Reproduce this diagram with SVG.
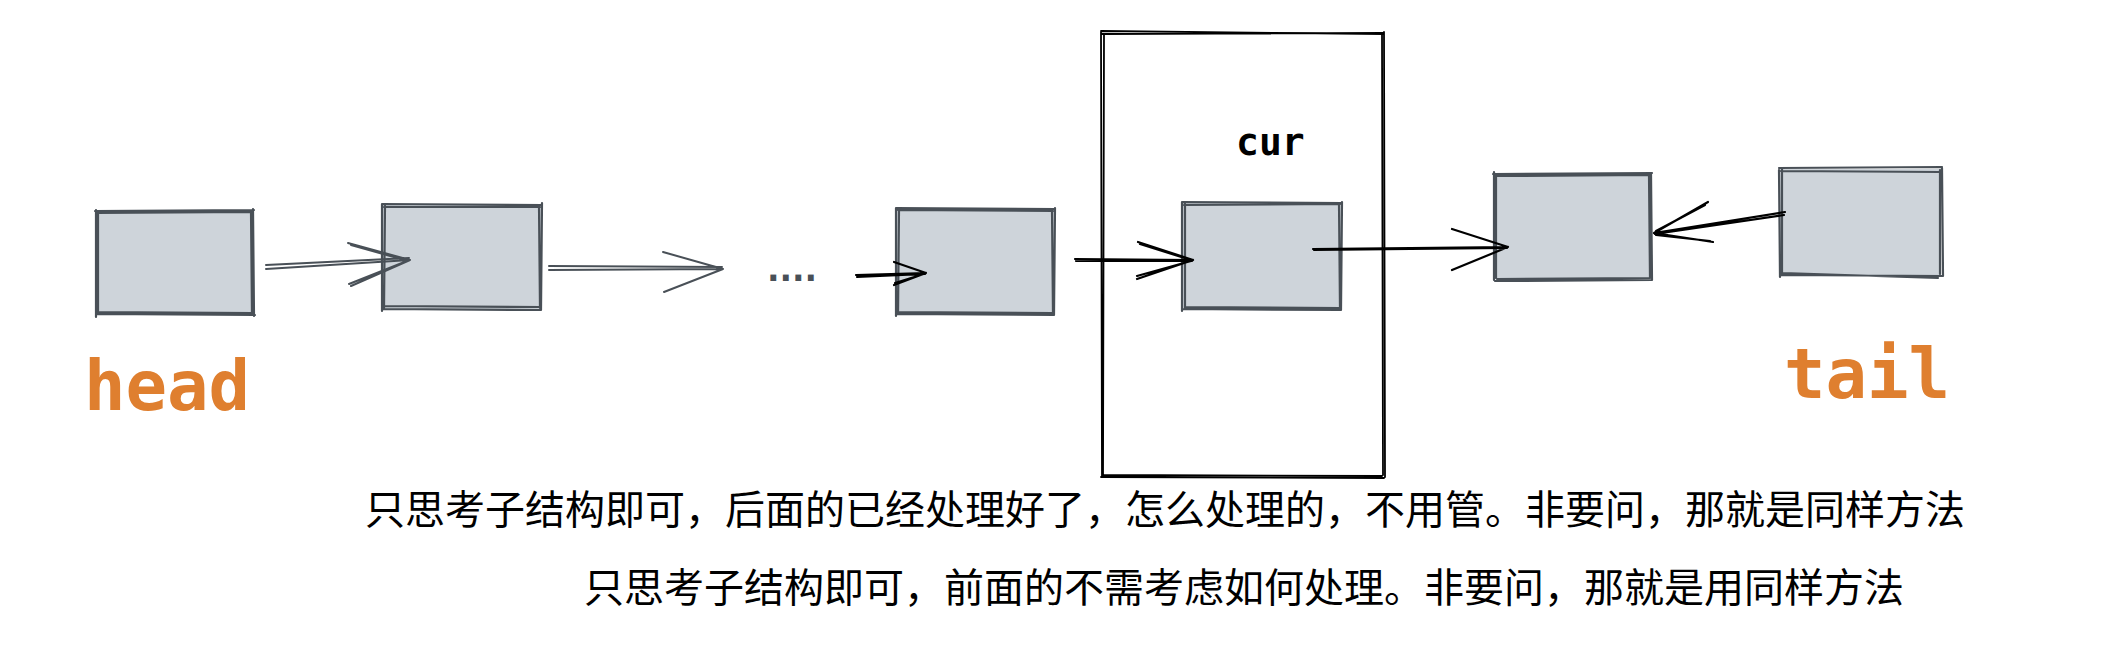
<svg xmlns="http://www.w3.org/2000/svg" width="2126" height="668" viewBox="0 0 2126 668">
<style>
.bg{fill:#ffffff}
.fill{fill:#ced4da;stroke:none}
.edge{fill:none;stroke:#495057;stroke-width:2.2;stroke-linecap:round;stroke-linejoin:round}
.frame{fill:none;stroke:#000000;stroke-width:1.8;stroke-linecap:round}
.ag{fill:none;stroke:#495057;stroke-width:2;stroke-linecap:round}
.ab{fill:none;stroke:#000000;stroke-width:2.2;stroke-linecap:round}
.lbl{font-family:"DejaVu Sans Mono","Liberation Mono",monospace;font-weight:bold;fill:#df7f2f;font-size:69px}
.cur{font-family:"DejaVu Sans Mono","Liberation Mono",monospace;font-weight:bold;fill:#000000;font-size:38px}
.dots{font-family:"DejaVu Sans","Liberation Sans",sans-serif;font-weight:bold;fill:#495057;font-size:33px}
.cn{font-family:"Noto Sans CJK SC","Noto Sans",sans-serif;fill:#000000;font-size:40px}
</style>
<rect class="bg" x="0" y="0" width="2126" height="668"/>

<g id="frame-cur">
  <path class="frame" d="M1101 31 L1384 34 M1102 34 L1383 33 M1101 32 L1102 477 M1104 34 L1103 476 M1384 32 L1385 477 M1382 35 L1383 475 M1101 477 L1384 478 M1103 475 L1382 476"/>
</g>

<g id="node-head">
  <rect class="fill" x="97" y="211" width="156" height="103"/>
  <path class="edge" d="M95 211 L254 210 M97 213 L252 212 M253 209 L254 316 M251 212 L252 314 M255 315 L96 314 M252 313 L99 312 M96 317 L96 210 M98 314 L98 212"/>
</g>
<g id="node-2">
  <rect class="fill" x="383" y="205" width="158" height="104"/>
  <path class="edge" d="M382 204 L542 205 M384 207 L540 207 M542 203 L541 310 M539 206 L540 308 M541 310 L383 309 M540 307 L385 306 M382 311 L382 204 M384 309 L385 206"/>
</g>
<g id="node-3">
  <rect class="fill" x="897" y="209" width="157" height="105"/>
  <path class="edge" d="M896 208 L1055 209 M898 210 L1053 211 M1055 208 L1054 315 M1052 210 L1053 313 M1054 315 L897 314 M1052 313 L899 312 M896 316 L896 208 M898 314 L899 210"/>
</g>
<g id="node-cur">
  <rect class="fill" x="1183" y="203" width="158" height="106"/>
  <path class="edge" d="M1182 202 L1342 203 M1184 205 L1340 204 M1342 202 L1341 310 M1339 204 L1340 308 M1341 310 L1183 309 M1340 308 L1185 307 M1182 311 L1182 202 M1185 309 L1185 204"/>
</g>
<g id="node-5">
  <rect class="fill" x="1495" y="174" width="156" height="105"/>
  <path class="edge" d="M1493 174 L1652 173 M1495 176 L1650 175 M1651 173 L1652 280 M1649 175 L1650 278 M1652 280 L1495 281 M1650 278 L1497 279 M1494 172 L1494 280 M1496 174 L1496 278"/>
</g>
<g id="node-tail">
  <rect class="fill" x="1780" y="169" width="161" height="106"/>
  <path class="edge" d="M1779 168 L1942 167 M1781 171 L1940 172 M1942 168 L1943 276 M1940 170 L1940 274 M1942 276 L1781 275 M1938 278 L1783 273 M1779 170 L1780 277 M1782 169 L1782 275"/>
</g>

<g id="connectors">
  <path class="ag" d="M266 269 L410 260 M266 265 L409 258 M348 243 L410 260 M351 245 L408 261 M351 286 L410 260 M349 284 L407 261"/>
  <path class="ag" d="M549 270 L723 269 M549 266 L722 267 M663 252 L723 269 M664 292 L723 269"/>
  <path class="ab" d="M856 275 L926 273 M857 277 L925 274 M894 262 L926 273 M894 285 L926 273 M895 283 L924 274"/>
  <path class="ab" d="M1075 259 L1193 260 M1076 261 L1192 261 M1138 242 L1193 260 M1140 244 L1191 260 M1137 279 L1193 260 M1137 276 L1191 261"/>
  <path class="ab" d="M1313 249 L1508 247 M1314 250 L1507 248 M1452 229 L1508 247 M1452 270 L1508 247"/>
  <path class="ab" d="M1785 212 L1654 233 M1784 215 L1655 234 M1708 202 L1654 233 M1705 205 L1656 231 M1713 242 L1654 233 M1710 241 L1656 235"/>
</g>

<g id="labels">
  <text class="lbl" x="84" y="410">head</text>
  <text class="lbl" x="1784" y="398">tail</text>
  <text class="cur" x="1236" y="155">cur</text>
  <text class="dots" x="767" y="281">....</text>
  <text class="cn" x="365" y="524">只思考子结构即可，后面的已经处理好了，怎么处理的，不用管。非要问，那就是同样方法</text>
  <text class="cn" x="584" y="602">只思考子结构即可，前面的不需考虑如何处理。非要问，那就是用同样方法</text>
</g>
</svg>
